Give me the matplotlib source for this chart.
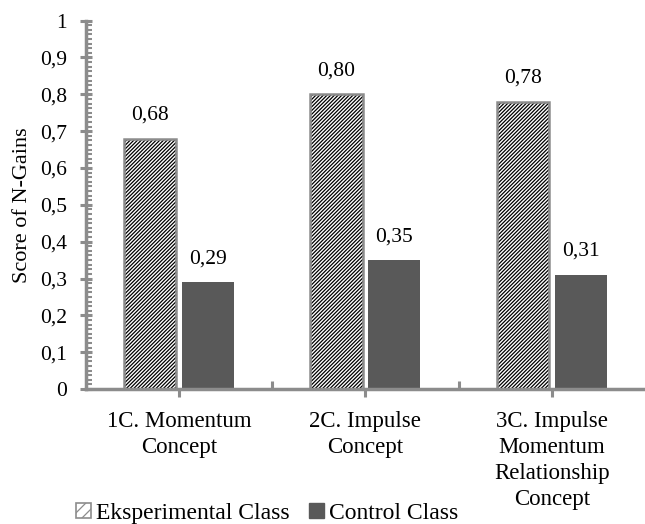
import matplotlib.pyplot as plt
import numpy as np
from matplotlib.ticker import MultipleLocator, AutoMinorLocator, FuncFormatter

plt.rcParams["font.family"] = ["Liberation Serif", "DejaVu Serif"]
plt.rcParams["hatch.linewidth"] = 0.9

categories = ["1C. Momentum\nConcept", "2C. Impulse\nConcept",
              "3C. Impulse\nMomentum\nRelationship\nConcept"]
eksperimental = [0.68, 0.80, 0.78]
control = [0.29, 0.35, 0.31]
series_names = ["Eksperimental Class", "Control Class"]

axis_gray = "#8c8c8c"
dark = "#595959"


def comma(v):
    if abs(v) < 1e-9:
        return "0"
    if abs(v - 1) < 1e-9:
        return "1"
    return f"{v:.1f}".replace(".", ",")


fig = plt.figure(figsize=(6.45, 5.24), dpi=100)
ax = fig.add_axes([0.133, 0.2576, 0.867, 0.703])

x = np.arange(len(categories))
w = 0.28
off = 0.155

# white base, black hatch on top, gray outline last
ax.bar(x - off, eksperimental, w, facecolor="white", linewidth=0)
ax.bar(x - off, eksperimental, w, facecolor="none", edgecolor="black",
       hatch="/////////", linewidth=0)
ax.bar(x - off, eksperimental, w, facecolor="none", edgecolor=axis_gray,
       linewidth=1.8)
ax.bar(x + off, control, w, color=dark, linewidth=0)

for xi, v in zip(x - off, eksperimental):
    ax.annotate(f"{v:.2f}".replace(".", ","), (xi, v), xytext=(0, 10),
                textcoords="offset points", ha="center", va="bottom", fontsize=15.5)
for xi, v in zip(x + off, control):
    ax.annotate(f"{v:.2f}".replace(".", ","), (xi, v), xytext=(0, 10),
                textcoords="offset points", ha="center", va="bottom", fontsize=15.5)

ax.set_xlim(-0.5, 2.5)
ax.set_ylim(0, 1)

ax.yaxis.set_major_locator(MultipleLocator(0.1))
ax.yaxis.set_minor_locator(AutoMinorLocator(8))
ax.yaxis.set_major_formatter(FuncFormatter(lambda v, _: comma(v)))
ax.tick_params(axis="y", which="major", direction="inout", length=9, width=2.2,
               color=axis_gray, labelsize=15.5, pad=9)
ax.tick_params(axis="y", which="minor", direction="in", length=4, width=1.5,
               color=axis_gray)

ax.set_xticks([0.5, 1.5])
ax.set_xticklabels([])
ax.set_xticks(x, minor=True)
ax.set_xticklabels(categories, minor=True, linespacing=1.3)
ax.tick_params(axis="x", which="major", direction="in", length=6, width=2.2,
               color=axis_gray)
ax.tick_params(axis="x", which="minor", direction="out", length=6, width=2.2,
               color=axis_gray, labelsize=16.5, pad=10)

for s in ["top", "right"]:
    ax.spines[s].set_visible(False)
for s in ["left", "bottom"]:
    ax.spines[s].set_color(axis_gray)
    ax.spines[s].set_linewidth(2.5)

ax.set_ylabel("Score of N-Gains", fontsize=16, labelpad=6)

handles = [plt.Rectangle((0, 0), 1, 1, facecolor="white", edgecolor=axis_gray,
                         hatch="///", linewidth=1.2),
           plt.Rectangle((0, 0), 1, 1, facecolor=dark, edgecolor=dark)]
fig.legend(handles, series_names, loc="lower left", bbox_to_anchor=(0.085, -0.04),
           ncol=2, frameon=False, fontsize=17, handlelength=0.65, handleheight=0.65,
           handletextpad=0.2, columnspacing=0.8)

fig.savefig("out.png", dpi=100)
